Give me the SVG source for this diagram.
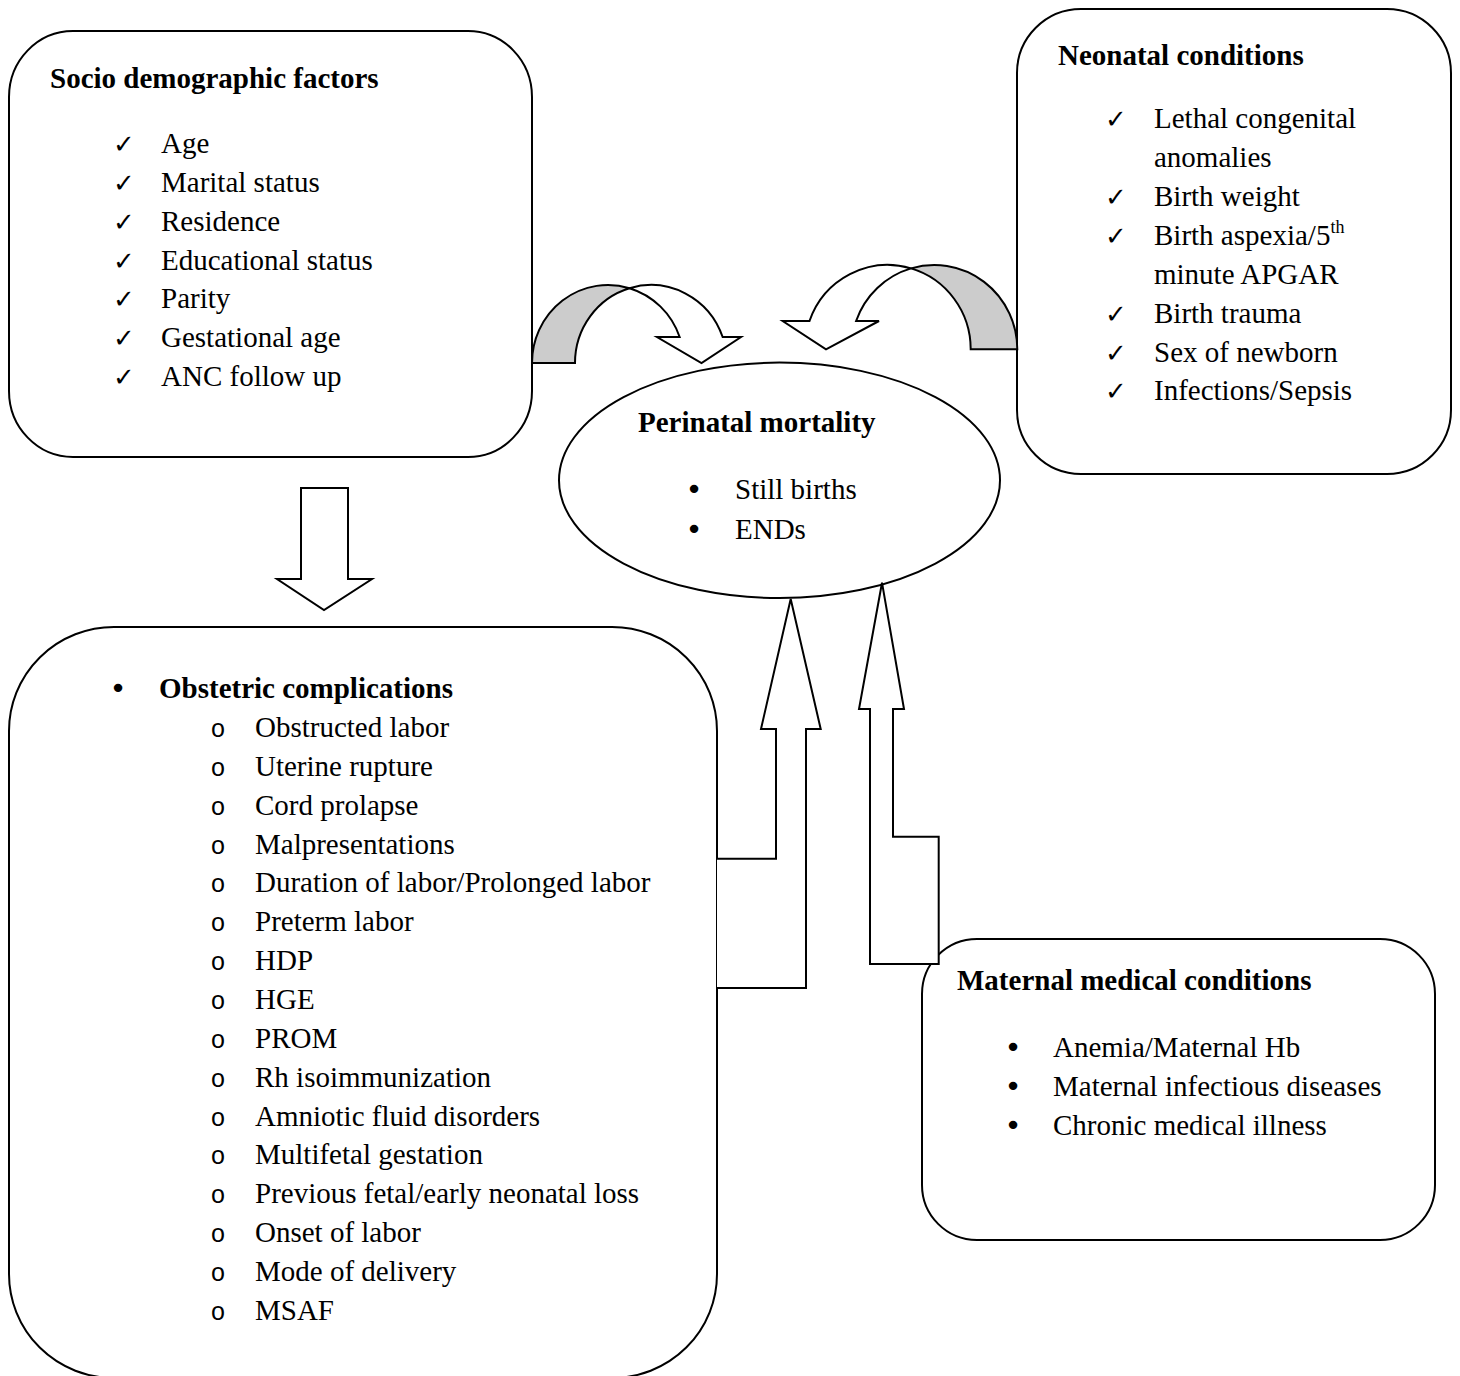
<svg xmlns="http://www.w3.org/2000/svg" width="1460" height="1376" viewBox="0 0 1460 1376">
<style>
.box{fill:#fff;stroke:#000;stroke-width:2}
.arr{fill:#fff;stroke:#000;stroke-width:2;stroke-linejoin:miter}
.back{fill:#cccccc;stroke:#000;stroke-width:2}
.t{font-family:"Liberation Serif","Times New Roman",serif;font-size:29px;fill:#000}
.h{font-family:"Liberation Serif","Times New Roman",serif;font-size:29px;font-weight:bold;fill:#000}
.ck{font-family:"DejaVu Sans",sans-serif;font-size:26px;fill:#000;text-anchor:middle}
.bu{font-family:"DejaVu Sans",sans-serif;font-size:29px;fill:#000;text-anchor:middle}
.o{font-family:"Liberation Mono","Courier New",monospace;font-size:25px;fill:#000;text-anchor:middle}
.sup{font-size:18px}
</style>
<rect width="1460" height="1376" fill="#fff"/>

<g id="socio">
<rect class="box" x="9" y="31" width="523" height="426" rx="64" ry="66"/>
<text class="h" x="50" y="88">Socio demographic factors</text>
<text class="ck" x="124" y="153">✓</text><text class="t" x="161" y="153">Age</text>
<text class="ck" x="124" y="192">✓</text><text class="t" x="161" y="192">Marital status</text>
<text class="ck" x="124" y="231">✓</text><text class="t" x="161" y="231">Residence</text>
<text class="ck" x="124" y="270">✓</text><text class="t" x="161" y="270">Educational status</text>
<text class="ck" x="124" y="308">✓</text><text class="t" x="161" y="308">Parity</text>
<text class="ck" x="124" y="347">✓</text><text class="t" x="161" y="347">Gestational age</text>
<text class="ck" x="124" y="386">✓</text><text class="t" x="161" y="386">ANC follow up</text>
</g>

<g id="neonatal">
<rect class="box" x="1017" y="9" width="434" height="465" rx="64" ry="64"/>
<text class="h" x="1058" y="65">Neonatal conditions</text>
<text class="ck" x="1116" y="128">✓</text><text class="t" x="1154" y="128">Lethal congenital</text>
<text class="t" x="1154" y="167">anomalies</text>
<text class="ck" x="1116" y="206">✓</text><text class="t" x="1154" y="206">Birth weight</text>
<text class="ck" x="1116" y="245">✓</text><text class="t" x="1154" y="245">Birth aspexia/5<tspan class="sup" dy="-12">th</tspan></text>
<text class="t" x="1154" y="284">minute APGAR</text>
<text class="ck" x="1116" y="323">✓</text><text class="t" x="1154" y="323">Birth trauma</text>
<text class="ck" x="1116" y="362">✓</text><text class="t" x="1154" y="362">Sex of newborn</text>
<text class="ck" x="1116" y="400">✓</text><text class="t" x="1154" y="400">Infections/Sepsis</text>
</g>

<g id="perinatal">
<ellipse class="box" cx="779.5" cy="480.3" rx="220.5" ry="117.7"/>
<text class="h" x="638" y="432">Perinatal mortality</text>
<text class="bu" x="694" y="499">•</text><text class="t" x="735" y="499">Still births</text>
<text class="bu" x="694" y="539">•</text><text class="t" x="735" y="539">ENDs</text>
</g>

<g id="obstetric">
<rect class="box" x="9" y="627" width="708" height="751" rx="105" ry="104"/>
<text class="bu" x="118" y="698">•</text><text class="h" x="159" y="698">Obstetric complications</text>
<g class="o">
<text x="218" y="737">o</text>
<text x="218" y="776">o</text>
<text x="218" y="815">o</text>
<text x="218" y="854">o</text>
<text x="218" y="892">o</text>
<text x="218" y="931">o</text>
<text x="218" y="970">o</text>
<text x="218" y="1009">o</text>
<text x="218" y="1048">o</text>
<text x="218" y="1087">o</text>
<text x="218" y="1126">o</text>
<text x="218" y="1164">o</text>
<text x="218" y="1203">o</text>
<text x="218" y="1242">o</text>
<text x="218" y="1281">o</text>
<text x="218" y="1320">o</text>
</g>
<text class="t" x="255" y="737">Obstructed labor</text>
<text class="t" x="255" y="776">Uterine rupture</text>
<text class="t" x="255" y="815">Cord prolapse</text>
<text class="t" x="255" y="854">Malpresentations</text>
<text class="t" x="255" y="892">Duration of labor/Prolonged labor</text>
<text class="t" x="255" y="931">Preterm labor</text>
<text class="t" x="255" y="970">HDP</text>
<text class="t" x="255" y="1009">HGE</text>
<text class="t" x="255" y="1048">PROM</text>
<text class="t" x="255" y="1087">Rh isoimmunization</text>
<text class="t" x="255" y="1126">Amniotic fluid disorders</text>
<text class="t" x="255" y="1164">Multifetal gestation</text>
<text class="t" x="255" y="1203">Previous fetal/early neonatal loss</text>
<text class="t" x="255" y="1242">Onset of labor</text>
<text class="t" x="255" y="1281">Mode of delivery</text>
<text class="t" x="255" y="1320">MSAF</text>
</g>

<g id="maternal">
<rect class="box" x="922" y="939" width="513" height="301" rx="55" ry="55"/>
<text class="h" x="957" y="990">Maternal medical conditions</text>
<text class="bu" x="1013" y="1057">•</text><text class="t" x="1053" y="1057">Anemia/Maternal Hb</text>
<text class="bu" x="1013" y="1096">•</text><text class="t" x="1053" y="1096">Maternal infectious diseases</text>
<text class="bu" x="1013" y="1135">•</text><text class="t" x="1053" y="1135">Chronic medical illness</text>
</g>

<g id="connectors">
<path class="back" d="M 532 363 A 76 78 0 0 1 629.5 288.18 A 76 78 0 0 0 575 363 Z"/>
<path class="arr" d="M 629.5 288.18 A 76 78 0 0 1 722.65 337 L 741 337 L 701.5 363 L 657 337 L 679.65 337 A 76 78 0 0 0 629.5 288.18 Z"/>
<path class="back" d="M 1017.3 349.3 A 83 84.3 0 0 0 911 268.4 A 83 84.3 0 0 1 970.7 349.3 Z"/>
<path class="arr" d="M 911 268.4 A 83 84.3 0 0 0 809.5 321 L 782.7 321 L 826 349.3 L 879 321 L 856.1 321 A 83 84.3 0 0 1 911 268.4 Z"/>
<path class="arr" d="M 301 488 L 348 488 L 348 579 L 372 579 L 324 610 L 277 579 L 301 579 Z"/>
<path class="arr" d="M 717 858.7 L 776 858.7 L 776 729 L 761 729 L 790.7 599 L 820.7 729 L 806 729 L 806 988 L 717 988"/>
<path class="arr" d="M 882 582.7 L 904 709 L 893 709 L 893 836.7 L 938.7 836.7 L 938.7 964 L 870 964 L 870 709 L 859 709 Z"/>
</g>
</svg>
